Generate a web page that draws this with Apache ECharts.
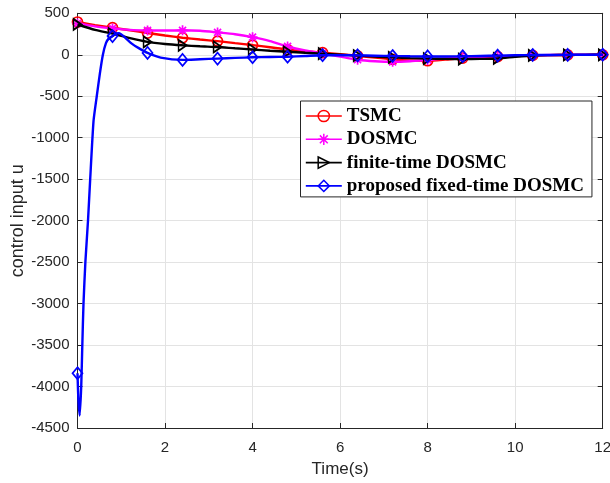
<!DOCTYPE html>
<html>
<head>
<meta charset="utf-8">
<script src="https://cdn.jsdelivr.net/npm/echarts@6/dist/echarts.min.js"></script>
<style>
  html, body { margin: 0; padding: 0; background: #ffffff; }
  #chart { width: 610px; height: 483px; }
</style>
</head>
<body>
<div id="chart"></div>
<script>
// Sample times (s) shared by the three reference controllers
const tGrid = [0, 0.4, 0.8, 1.2, 1.6, 2, 2.4, 2.8, 3.2, 3.6, 4, 4.4, 4.8, 5.2, 5.6, 6,
  6.4, 6.8, 7.2, 7.6, 8, 8.4, 8.8, 9.2, 9.6, 10, 10.4, 10.8, 11.2, 11.6, 12];

// Control input u of each controller
const tsmc = [395, 358, 327, 295, 262, 232, 205, 184, 164, 140, 117, 90, 62, 42, 26, 8,
  -12, -35, -55, -68, -72, -58, -40, -30, -22, -15, -8, -4, -2, -1, 0];
const dosmc = [378, 342, 318, 300, 293, 292, 295, 290, 270, 248, 212, 165, 100, 52, 16, -22,
  -60, -78, -85, -78, -62, -45, -35, -26, -20, -12, -6, -3, -1, 0, 0];
const finiteDosmc = [365, 300, 255, 200, 155, 130, 114, 102, 94, 78, 64, 48, 36, 24, 14, 2,
  -10, -22, -32, -40, -46, -50, -52, -50, -45, -25, -8, -4, -2, -1, 0];

// Proposed controller: denser sampling around the initial spike
const tFixed = [0, 0.02, 0.05, 0.085, 0.11, 0.137, 0.18, 0.24, 0.29, 0.366, 0.44, 0.51, 0.58, 0.65, 0.72,
  0.8, 0.88, 0.95, 1.05, 1.24, 1.4, 1.6, 1.9, 2.4, 2.8, 3.2, 3.6, 4, 4.4, 4.8, 5.2, 5.6, 6,
  6.4, 6.8, 7.2, 7.6, 8, 8.4, 8.8, 9.2, 9.6, 10, 10.4, 10.8, 11.2, 11.6, 12];
const fixedDosmc = [-3840, -4150, -4350, -4000, -3500, -3000, -2500, -2000, -1500, -800, -500, -230, 0, 140, 200,
  225, 258, 260, 225, 135, 80, 22, -34, -62, -54, -46, -38, -30, -27, -24, -15, -5, -4,
  -7, -11, -15, -18, -20, -20, -18, -14, -10, -6, -3, -2, -1, 0, 0];

const xTicks = { min: 0, max: 12, step: 2 };
const yTicks = { min: -4500, max: 500, step: 500 };
const markerStep = 0.8;

const names = ['TSMC', 'DOSMC', 'finite-time DOSMC', 'proposed fixed-time DOSMC'];
const colors = ['#ff0000', '#ff00ff', '#000000', '#0000ff'];

const starPath = 'path://M5,0 L5,10 M0,5 L10,5 M1.5,1.5 L8.5,8.5 M1.5,8.5 L8.5,1.5';
const triRightPath = 'path://M0,0 L8,5.5 L0,11 Z';
const symbols = [
  { symbol: 'circle', size: 10 },
  { symbol: starPath, size: 10 },
  { symbol: triRightPath, size: [8, 11] },
  { symbol: 'diamond', size: [10, 12] }
];

const curves = [
  { t: tGrid, u: tsmc },
  { t: tGrid, u: dosmc },
  { t: tGrid, u: finiteDosmc },
  { t: tFixed, u: fixedDosmc }
];

function pairs(t, u) { return t.map((x, i) => [x, u[i]]); }
function markerPairs(t, u) {
  return pairs(t, u).filter(p => Math.abs(p[0] / markerStep - Math.round(p[0] / markerStep)) < 1e-6);
}

const series = [];
curves.forEach((c, k) => {
  // markers (carry the legend entry), line hidden
  series.push({
    name: names[k],
    type: 'line',
    data: markerPairs(c.t, c.u),
    symbol: symbols[k].symbol,
    symbolSize: symbols[k].size,
    showAllSymbol: true,
    lineStyle: { color: colors[k], width: 2, opacity: 0 },
    itemStyle: { color: 'rgba(0,0,0,0)', borderColor: colors[k], borderWidth: 1.7 },
    silent: true,
    z: 3 + k * 2
  });
  // the curve itself
  series.push({
    name: names[k],
    type: 'line',
    data: pairs(c.t, c.u),
    symbol: 'none',
    smooth: 0.2,
    lineStyle: { color: colors[k], width: 2.4 },
    itemStyle: { color: colors[k] },
    silent: true,
    z: 3 + k * 2
  });
});

const axisColor = '#262626';
const gridColor = '#e3e3e3';
const labelFont = 'Liberation Sans, Arial, Helvetica, sans-serif';

const chart = echarts.init(document.getElementById('chart'), null, { renderer: 'canvas' });
chart.setOption({
  animation: false,
  backgroundColor: '#ffffff',
  grid: { left: 77.5, right: 7.3, top: 13.3, bottom: 55, containLabel: false, outerBoundsMode: 'none' },
  legend: {
    orient: 'vertical',
    left: 300.5,
    top: 101,
    padding: [5, 8, 1, 4.5],
    itemWidth: 36,
    itemHeight: 14,
    itemGap: 3.3,
    backgroundColor: '#ffffff',
    borderColor: '#262626',
    borderWidth: 1,
    borderRadius: 0,
    selectedMode: false,
    textStyle: {
      fontFamily: 'Liberation Serif, Times New Roman, serif',
      fontWeight: 'bold',
      fontSize: 19,
      lineHeight: 20,
      color: '#000000'
    },
    data: names.map((n, k) => ({
      name: n,
      lineStyle: { color: colors[k], width: 1.6, opacity: 1 },
      itemStyle: { color: 'rgba(0,0,0,0)', borderColor: colors[k], borderWidth: 1.5 }
    }))
  },
  xAxis: [{
    type: 'value',
    min: xTicks.min, max: xTicks.max, interval: xTicks.step,
    name: 'Time(s)',
    nameLocation: 'middle',
    nameGap: 33,
    nameMoveOverlap: false,
    nameTextStyle: { fontFamily: labelFont, fontSize: 17, color: axisColor },
    axisLine: { show: true, onZero: false, lineStyle: { color: axisColor, width: 1 } },
    axisTick: { show: true, inside: true, length: 5, lineStyle: { color: axisColor } },
    axisLabel: { fontFamily: labelFont, fontSize: 15, color: axisColor, margin: 12 },
    splitLine: { show: true, lineStyle: { color: gridColor, width: 1 } }
  }, {
    type: 'value', position: 'top',
    min: xTicks.min, max: xTicks.max, interval: xTicks.step,
    axisLine: { show: true, onZero: false, lineStyle: { color: axisColor, width: 1 } },
    axisTick: { show: true, inside: true, length: 5, lineStyle: { color: axisColor } },
    axisLabel: { show: false },
    splitLine: { show: false }
  }],
  yAxis: [{
    type: 'value',
    min: yTicks.min, max: yTicks.max, interval: yTicks.step,
    name: 'control input u',
    nameLocation: 'middle',
    nameGap: 50,
    nameMoveOverlap: false,
    nameRotate: 90,
    nameTextStyle: { fontFamily: labelFont, fontSize: 18, color: axisColor },
    axisLine: { show: true, onZero: false, lineStyle: { color: axisColor, width: 1 } },
    axisTick: { show: true, inside: true, length: 5, lineStyle: { color: axisColor } },
    axisLabel: { fontFamily: labelFont, fontSize: 15, color: axisColor, margin: 8,
      formatter: v => String(v) },
    splitLine: { show: true, lineStyle: { color: gridColor, width: 1 } }
  }, {
    type: 'value', position: 'right',
    min: yTicks.min, max: yTicks.max, interval: yTicks.step,
    axisLine: { show: true, onZero: false, lineStyle: { color: axisColor, width: 1 } },
    axisTick: { show: true, inside: true, length: 5, lineStyle: { color: axisColor } },
    axisLabel: { show: false },
    splitLine: { show: false }
  }],
  series: series
});
</script>
</body>
</html>
